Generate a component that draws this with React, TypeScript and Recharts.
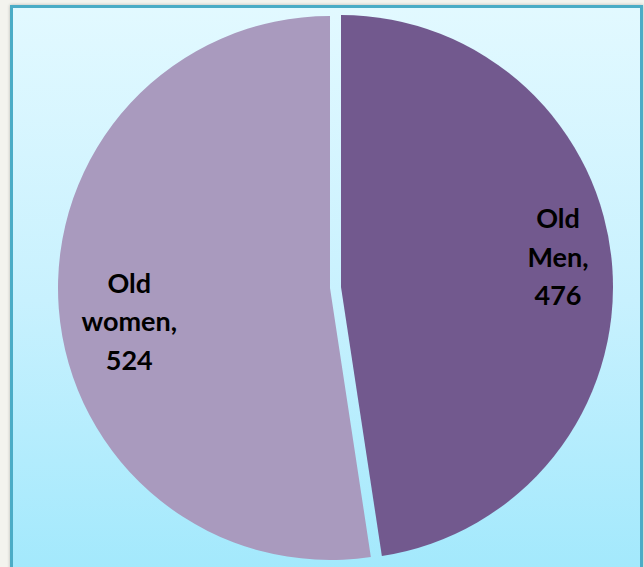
import React from "react";
import { PieChart, Pie, Cell } from "recharts";

const categories = ["Old Men", "Old women"];
const values = [476, 524];
const colors = ["#72598E", "#A99ABE"];

const data = categories.map((name, i) => ({ name, value: values[i] }));

const RADIAN = Math.PI / 180;
const labelRadius = [0.8, 0.74];
const labelShift = [-14, 18];

const makeLabel = (visibleIndex: number) => (props: any) => {
  const { cx, cy, midAngle, outerRadius, index, name, value } = props;
  if (index !== visibleIndex) return null;
  const r = outerRadius * labelRadius[index];
  const x = cx + r * Math.cos(-midAngle * RADIAN);
  const y = cy + r * Math.sin(-midAngle * RADIAN) + labelShift[index];
  const words = String(name).split(" ");
  const lines = [words[0], words.slice(1).join(" ") + ",", String(value)];
  return (
    <text
      x={x}
      y={y - 28.5}
      textAnchor="middle"
      fill="#000"
      style={{ fontFamily: "Lato, Carlito, Calibri, sans-serif", fontWeight: 700, fontSize: 27 }}
    >
      {lines.map((l, i) => (
        <tspan key={i} x={x} dy={i === 0 ? 0 : 38.5}>
          {l}
        </tspan>
      ))}
    </text>
  );
};

export default function App() {
  return (
    <div
      style={{
        position: "absolute",
        left: 0,
        top: 0,
        width: 644,
        height: 567,
        overflow: "hidden",
        background: "#F3F3EE",
      }}
    >
      <div
        style={{
          position: "absolute",
          left: 10,
          top: 5,
          width: 633,
          height: 590,
          boxSizing: "border-box",
          border: "3px solid #4BACC6",
          background: "linear-gradient(to bottom, #E2F9FF 0%, #C8F1FE 50%, #A0E8FC 100%)",
          boxShadow: "0 0 3px rgba(0,0,0,0.25)",
        }}
      />
      <div style={{ position: "absolute", left: 0, top: 0 }}>
        <PieChart width={644} height={567} margin={{ top: 0, right: 0, bottom: 0, left: 0 }}>
          <Pie
            data={data}
            dataKey="value"
            nameKey="name"
            cx={341}
            cy={287}
            outerRadius={272}
            startAngle={90}
            endAngle={-270}
            stroke="none"
            isAnimationActive={false}
            label={makeLabel(0)}
            labelLine={false}
          >
            {data.map((d, i) => (
              <Cell key={d.name} fill={i === 0 ? colors[0] : "transparent"} stroke="none" />
            ))}
          </Pie>
          <Pie
            data={data}
            dataKey="value"
            nameKey="name"
            cx={330}
            cy={288}
            outerRadius={272}
            startAngle={90}
            endAngle={-270}
            stroke="none"
            isAnimationActive={false}
            label={makeLabel(1)}
            labelLine={false}
          >
            {data.map((d, i) => (
              <Cell key={d.name} fill={i === 1 ? colors[1] : "transparent"} stroke="none" />
            ))}
          </Pie>
        </PieChart>
      </div>
    </div>
  );
}
